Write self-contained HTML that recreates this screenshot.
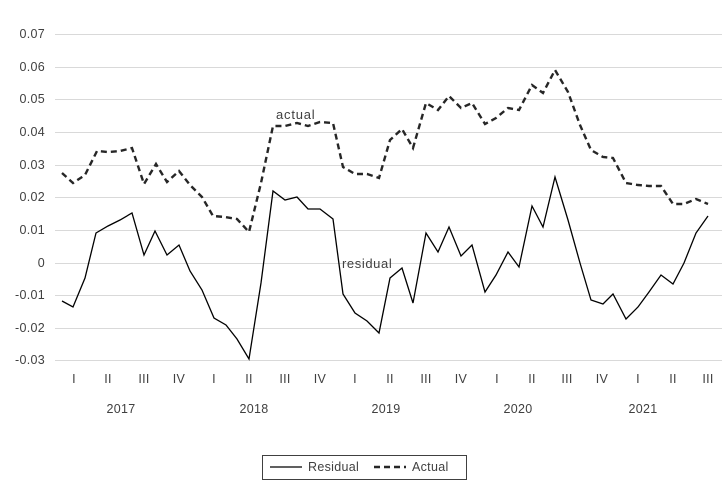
<!DOCTYPE html>
<html><head><style>body{margin:0;background:#fff}svg{display:block}text{font-family:"Liberation Sans",sans-serif;fill:#404040;font-size:12.5px;letter-spacing:0.3px}</style></head><body>
<svg width="726" height="488" xmlns="http://www.w3.org/2000/svg">
<g stroke="#d9d9d9" stroke-width="1">
<line x1="55" x2="722" y1="34.5" y2="34.5"/><line x1="55" x2="722" y1="67.5" y2="67.5"/><line x1="55" x2="722" y1="99.5" y2="99.5"/><line x1="55" x2="722" y1="132.5" y2="132.5"/><line x1="55" x2="722" y1="165.5" y2="165.5"/><line x1="55" x2="722" y1="197.5" y2="197.5"/><line x1="55" x2="722" y1="230.5" y2="230.5"/><line x1="55" x2="722" y1="263.5" y2="263.5"/><line x1="55" x2="722" y1="295.5" y2="295.5"/><line x1="55" x2="722" y1="328.5" y2="328.5"/><line x1="55" x2="722" y1="360.5" y2="360.5"/>
</g>
<g text-anchor="end">
<text x="45" y="38">0.07</text><text x="45" y="71">0.06</text><text x="45" y="103">0.05</text><text x="45" y="136">0.04</text><text x="45" y="169">0.03</text><text x="45" y="201">0.02</text><text x="45" y="234">0.01</text><text x="45" y="267">0</text><text x="45" y="299">-0.01</text><text x="45" y="332">-0.02</text><text x="45" y="364">-0.03</text>
</g>
<g text-anchor="middle">
<text x="74" y="383">I</text><text x="108" y="383">II</text><text x="144" y="383">III</text><text x="179" y="383">IV</text><text x="214" y="383">I</text><text x="249" y="383">II</text><text x="285" y="383">III</text><text x="320" y="383">IV</text><text x="355" y="383">I</text><text x="390" y="383">II</text><text x="426" y="383">III</text><text x="461" y="383">IV</text><text x="497" y="383">I</text><text x="532" y="383">II</text><text x="567" y="383">III</text><text x="602" y="383">IV</text><text x="638" y="383">I</text><text x="673" y="383">II</text><text x="708" y="383">III</text>
<text x="121" y="413">2017</text><text x="254" y="413">2018</text><text x="386" y="413">2019</text><text x="518" y="413">2020</text><text x="643" y="413">2021</text>
</g>
<polyline fill="none" stroke="#000" stroke-width="1.3" points="62,301 73,307 85,278 96,233 108,226 120,220 132,213 144,255 155,231 167,255 179,245 190,271 202,290 214,318 226,325 237,339 249,359 261,283 273,191 285,200 297,197 308,209 320,209 333,219 343,294 355,313 367,321 379,333 390,278 402,268 413,303 426,233 438,252 449,227 461,256 472,245 485,292 496,275 508,252 519,267 532,206 543,227 555,177 568,220 580,263 591,300 603,304 613,294 626,319 638,307 649,292 661,275 673,284 684,263 696,233 708,216"/>
<polyline fill="none" stroke="#262626" stroke-width="2.4" stroke-dasharray="6,4" points="62,173 73,183 85,175 97,151 108,152 120,151 132,148 144,184 156,164 167,182 179,171 190,185 202,197 213,216 225,217 237,219 249,232 261,183 273,126 285,126 297,123 308,126 320,122 333,123 343,167 355,174 367,174 379,178 390,140 402,129 413,148 426,103 438,110 449,96 461,108 472,103 485,124 496,118 508,108 519,110 532,85 543,93 555,70 568,92 580,125 591,150 603,157 613,158 626,183 638,185 649,186 661,186 673,204 684,204 696,199 708,204"/>
<text x="276" y="119" style="font-size:13px;letter-spacing:0.8px">actual</text>
<text x="342" y="268" style="font-size:13px;letter-spacing:0.6px">residual</text>
<rect x="262.5" y="455.5" width="204" height="24" fill="#fff" stroke="#404040"/>
<line x1="270" x2="302" y1="467" y2="467" stroke="#000" stroke-width="1.3"/>
<text x="308" y="471">Residual</text>
<line x1="374" x2="406" y1="467" y2="467" stroke="#262626" stroke-width="2.4" stroke-dasharray="6,4"/>
<text x="412" y="471">Actual</text>
</svg>
</body></html>
